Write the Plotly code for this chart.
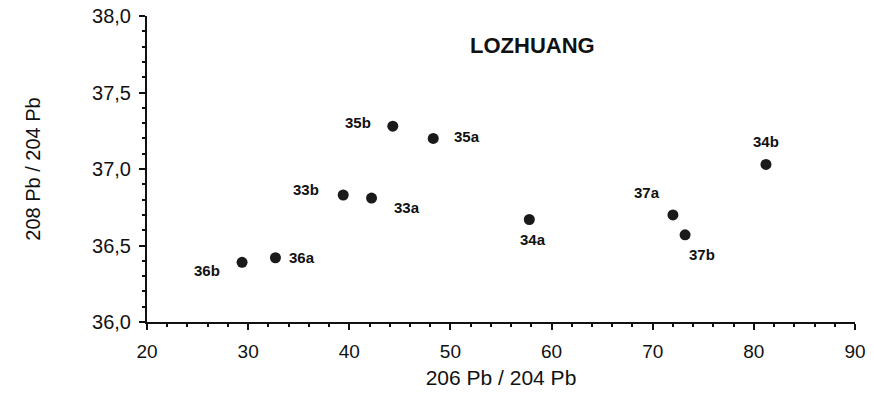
import plotly.graph_objects as go

labels = ["36b", "36a", "33b", "33a", "35b", "35a", "34a", "34b", "37a", "37b"]
x_206_204 = [29.4, 32.7, 39.4, 42.2, 44.3, 48.3, 57.8, 81.2, 72.0, 73.2]
y_208_204 = [36.39, 36.42, 36.83, 36.81, 37.28, 37.20, 36.67, 37.03, 36.70, 36.57]

# label offsets (pixels) relative to each point: style only
offsets = {
    "36b": (-35, -8), "36a": (27, 0), "33b": (-37, 6), "33a": (35, -9),
    "35b": (-35, 4), "35a": (34, 2), "34a": (4, -20), "34b": (0, 23),
    "37a": (-26, 22), "37b": (17, -20),
}

fig = go.Figure()
fig.add_trace(go.Scatter(
    x=x_206_204, y=y_208_204, mode="markers",
    marker=dict(size=11, color="#1a1a1a"),
    showlegend=False, hoverinfo="skip",
))

for lab, xv, yv in zip(labels, x_206_204, y_208_204):
    dx, dy = offsets[lab]
    fig.add_annotation(x=xv, y=yv, text="<b>" + lab + "</b>", showarrow=False,
                       xshift=dx, yshift=dy,
                       font=dict(family="Arial, Liberation Sans", size=15, color="#111"))

fig.add_annotation(x=0.544, y=0.902, xref="paper", yref="paper",
                   xanchor="center", yanchor="middle",
                   text="<b>LOZHUANG</b>", showarrow=False,
                   font=dict(family="Arial, Liberation Sans", size=22, color="#111"))

fig.update_layout(
    width=874, height=394,
    margin=dict(l=147, r=19, t=16, b=72),
    paper_bgcolor="white", plot_bgcolor="white",
    separators=", ",
    font=dict(family="Arial, Liberation Sans", color="#111"),
    xaxis=dict(
        range=[20, 90], dtick=10, tick0=20, showgrid=False, zeroline=False,
        showline=True, linecolor="#111", linewidth=2, automargin=False,
        ticks="outside", ticklen=6, tickwidth=2, tickcolor="#111",
        tickfont=dict(size=19), ticklabelstandoff=5,
        minor=dict(dtick=2, ticks="outside", ticklen=3, tickwidth=2, tickcolor="#111"),
        title=dict(text="206 Pb / 204 Pb", font=dict(size=21), standoff=10),
    ),
    yaxis=dict(
        range=[36, 38], dtick=0.5, tick0=36, tickformat=".1f", showgrid=False, zeroline=False,
        showline=True, linecolor="#111", linewidth=2, automargin=False,
        ticks="outside", ticklen=6, tickwidth=2, tickcolor="#111",
        tickfont=dict(size=20), ticklabelstandoff=4,
        minor=dict(dtick=0.1, ticks="outside", ticklen=3, tickwidth=2, tickcolor="#111"),
        title=dict(text="208 Pb / 204 Pb", font=dict(size=20), standoff=46),
    ),
)

fig.write_html("out.html", config={"displayModeBar": False},
               post_script="document.body.style.margin='0px';")
